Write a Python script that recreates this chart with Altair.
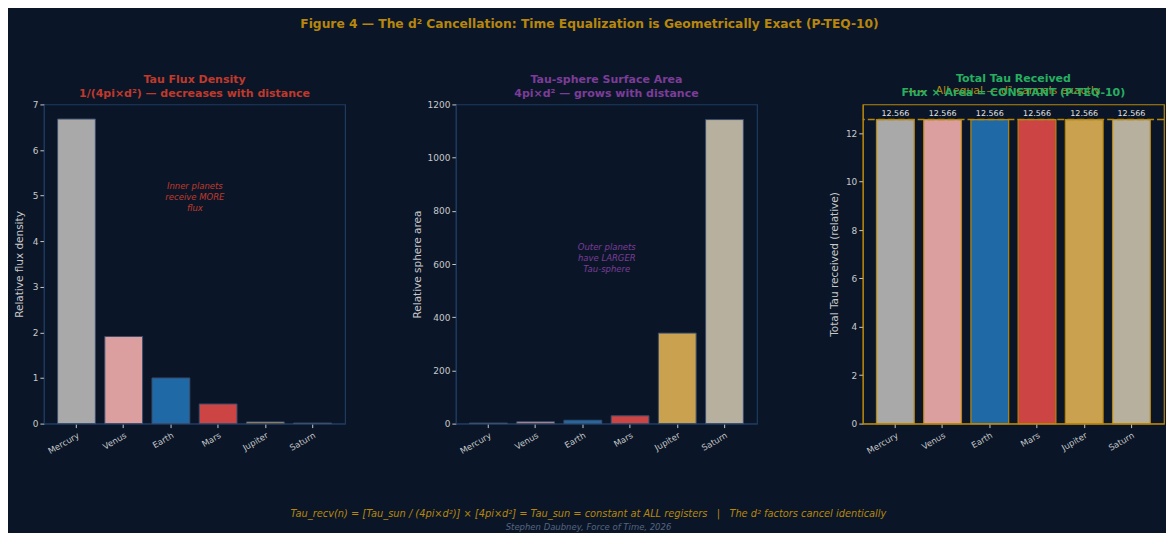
import altair as alt
import pandas as pd

# ---------------- data ----------------
planets = ["Mercury", "Venus", "Earth", "Mars", "Jupiter", "Saturn"]
bar_colors = ["#a9a9a9", "#dc9f9f", "#1f69a6", "#cc4444", "#c9a14f", "#b8b09f"]
flux_density = [6.68, 1.91, 1.00, 0.43, 0.037, 0.011]
sphere_area = [1.88, 6.57, 12.57, 29.19, 340.2, 1143.0]
total_tau = [12.566, 12.566, 12.566, 12.566, 12.566, 12.566]
total_labels = ["12.566", "12.566", "12.566", "12.566", "12.566", "12.566"]
constant_line = [12.566]

flux_ticks = [0, 1, 2, 3, 4, 5, 6, 7]
area_ticks = [0, 200, 400, 600, 800, 1000, 1200]
total_ticks = [0, 2, 4, 6, 8, 10, 12]

fig_title = "Figure 4 — The d² Cancellation: Time Equalization is Geometrically Exact (P-TEQ-10)"
title1 = ["Tau Flux Density", "1/(4pi×d²) — decreases with distance"]
title2 = ["Tau-sphere Surface Area", "4pi×d² — grows with distance"]
title3 = ["Total Tau Received", "Flux × Area = CONSTANT (P-TEQ-10)"]
note1 = "Inner planets\nreceive MORE\nflux"
note2 = "Outer planets\nhave LARGER\nTau-sphere"
legend3 = "All equal — d² cancels exactly"
footer_lines = [
    "Tau_recv(n) = [Tau_sun / (4pi×d²)] × [4pi×d²] = Tau_sun = constant at ALL registers\u00a0\u00a0\u00a0|\u00a0\u00a0\u00a0The d² factors cancel identically",
    "Stephen Daubney, Force of Time, 2026",
]

# ---------------- style ----------------
BG = "#0a1628"
SPINE = "#1e3a5f"
GOLD = "#b8860b"
TXT = "#c8c8c8"
FONT = "DejaVu Sans"
W, H = 302, 320

df = pd.DataFrame({
    "planet": planets,
    "flux": flux_density,
    "area": sphere_area,
    "total": total_tau,
    "lbl": total_labels,
})

color = alt.Color("planet:N", scale=alt.Scale(domain=planets, range=bar_colors), legend=None)


def xenc(spine):
    return alt.X(
        "planet:N", sort=planets, title=None,
        scale=alt.Scale(paddingInner=0.2, paddingOuter=0.29),
        axis=alt.Axis(labelAngle=-30, labelAlign="right", labelBaseline="top",
                      labelFontSize=8.5, labelColor=TXT, tickColor=TXT, tickSize=4,
                      labelPadding=3, domainColor=spine, labelFont=FONT),
    )


def yaxis(title, values, spine, tpad):
    return alt.Axis(title=title, values=values, format="d", labelFontSize=9, labelColor=TXT,
                    tickColor=TXT, tickSize=4, labelPadding=2, domainColor=spine,
                    titleFontSize=10.5, titleColor=TXT, titleFontWeight="normal",
                    titlePadding=tpad, labelFont=FONT, titleFont=FONT, grid=False)


def ptitle(lines, col, off):
    return alt.TitleParams(text=lines, color=col, fontSize=11, fontWeight="bold",
                           font=FONT, offset=off, lineHeight=14, anchor="middle")


def note_layer(text, value, col):
    ndf = pd.DataFrame({"planet": ["Earth"], "v": [value], "t": [text]})
    return alt.Chart(ndf).mark_text(
        lineBreak="\n", fontStyle="italic", fontSize=8.5, color=col,
        font=FONT, dx=24, dy=-10, lineHeight=11, align="center", baseline="middle",
    ).encode(x=alt.X("planet:N", sort=planets), y="v:Q", text="t:N")


# ---------- panel 1 ----------
bars1 = alt.Chart(df).mark_bar(stroke="#3b4d6b", strokeWidth=1).encode(
    x=xenc(SPINE),
    y=alt.Y("flux:Q", scale=alt.Scale(domain=[0, 7], nice=False),
            axis=yaxis("Relative flux density", flux_ticks, SPINE, 8)),
    color=color,
)
panel1 = alt.layer(bars1, note_layer(note1, 5.0, "#c0392b")).properties(
    width=W, height=H, title=ptitle(title1, "#c0392b", 1),
    view=alt.ViewBackground(stroke=SPINE, strokeWidth=1.2),
)

# ---------- panel 2 ----------
bars2 = alt.Chart(df).mark_bar(stroke="#3b4d6b", strokeWidth=1).encode(
    x=xenc(SPINE),
    y=alt.Y("area:Q", scale=alt.Scale(domain=[0, 1200], nice=False),
            axis=yaxis("Relative sphere area", area_ticks, SPINE, 5)),
    color=color,
)
panel2 = alt.layer(bars2, note_layer(note2, 625.0, "#7d3c98")).properties(
    width=W, height=H, title=ptitle(title2, "#7d3c98", 1),
    view=alt.ViewBackground(stroke=SPINE, strokeWidth=1.2),
)

# ---------- panel 3 ----------
bars3 = alt.Chart(df).mark_bar(stroke=GOLD, strokeWidth=1.2).encode(
    x=xenc(GOLD),
    y=alt.Y("total:Q", scale=alt.Scale(domain=[0, 13.19], nice=False),
            axis=yaxis("Total Tau received (relative)", total_ticks, GOLD, 6)),
    color=color,
)
rule3 = alt.Chart(pd.DataFrame({"v": constant_line})).mark_rule(
    color=GOLD, strokeWidth=1.5, strokeDash=[7, 3]
).encode(y="v:Q")
lbl3 = alt.Chart(df).mark_text(
    fontSize=8, color="#e0e0e0", font=FONT, baseline="bottom", dy=-2
).encode(x=alt.X("planet:N", sort=planets), y="total:Q", text="lbl:N")
leg_df = pd.DataFrame({"t": [legend3]})
leg_txt = alt.Chart(leg_df).mark_text(
    fontSize=11, color=GOLD, font=FONT, align="left", baseline="middle"
).encode(x=alt.value(73), y=alt.value(-13), text="t:N")
leg_line = alt.Chart(leg_df).mark_rule(color=GOLD, strokeWidth=1.5, strokeDash=[7, 3]).encode(
    x=alt.value(46), x2=alt.value(66), y=alt.value(-13)
)
panel3 = alt.layer(bars3, rule3, lbl3, leg_line, leg_txt).properties(
    width=W, height=H, title=ptitle(title3, "#27ae60", -13),
    view=alt.ViewBackground(stroke=GOLD, strokeWidth=1.2),
)

row = alt.hconcat(alt.hconcat(panel1, panel2, spacing=65), panel3, spacing=70)

# ---------- footer ----------
foot_df = pd.DataFrame({"t": footer_lines, "k": ["eq", "credit"]})
foot_eq = alt.Chart(foot_df[foot_df.k == "eq"]).mark_text(
    fontSize=9.85, fontStyle="italic", color=GOLD, font=FONT, align="center", baseline="middle"
).encode(x=alt.value(546), y=alt.value(44), text="t:N")
foot_cr = alt.Chart(foot_df[foot_df.k == "credit"]).mark_text(
    fontSize=8.5, fontStyle="italic", color="#56657f", font=FONT, align="center", baseline="middle"
).encode(x=alt.value(546), y=alt.value(57), text="t:N")
footer = alt.layer(foot_eq, foot_cr).properties(
    width=1100, height=56, view=alt.ViewBackground(stroke=None)
)

chart = alt.vconcat(row, footer, spacing=14).properties(
    title=alt.TitleParams(text=fig_title, color=GOLD, fontSize=12.3, fontWeight="bold",
                          font=FONT, anchor="middle", offset=43),
    padding={"left": 5, "top": 9, "right": 0, "bottom": 0},
).configure(background=BG).configure_view(stroke=None)

chart.save("out.html", embed_options={"renderer": "svg", "actions": False})
